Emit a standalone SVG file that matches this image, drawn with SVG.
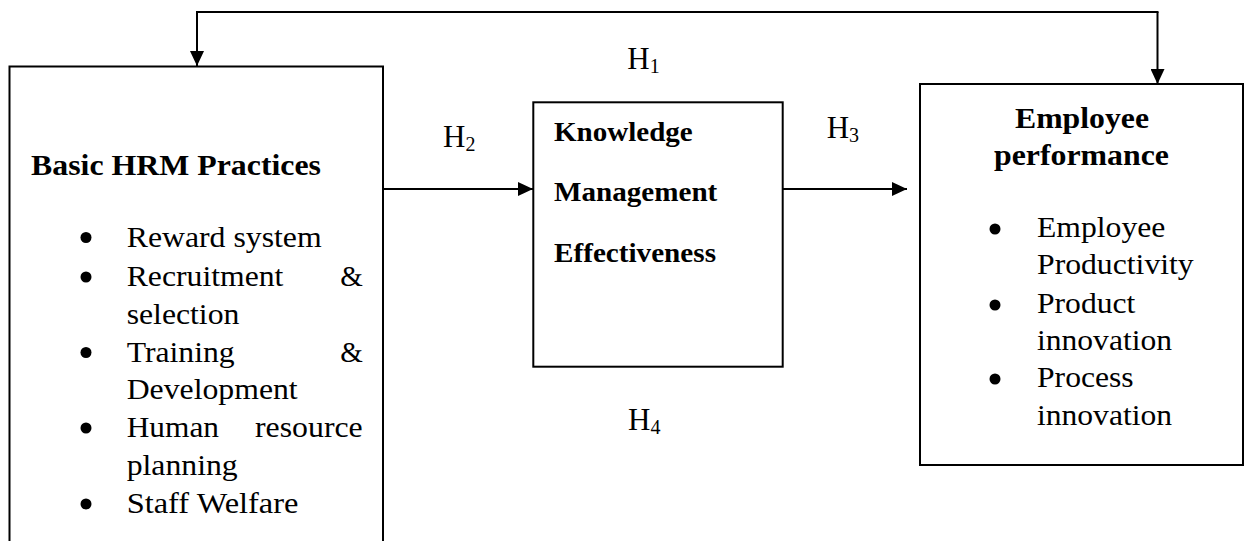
<svg xmlns="http://www.w3.org/2000/svg" width="1249" height="541" viewBox="0 0 1249 541">
<style>
.box{fill:#fff;stroke:#000;stroke-width:2}
.ln{fill:none;stroke:#000;stroke-width:2}
.t{font-family:"Liberation Serif","Times New Roman",serif;font-size:29px;fill:#000}
.b{font-family:"Liberation Serif","Times New Roman",serif;font-size:29px;font-weight:bold;fill:#000}
.m{font-size:28px}
.h{font-family:"Liberation Serif","Times New Roman",serif;font-size:31px;fill:#000}
.s{font-size:20px}
</style>
<defs>
<marker id="ah" markerUnits="userSpaceOnUse" markerWidth="16" markerHeight="14" refX="15" refY="7" orient="auto">
<path d="M0,0 L15,7 L0,14 Z" fill="#000"/>
</marker>
</defs>
<rect width="1249" height="541" fill="#fff"/>
<g id="connectors">
<path class="ln" d="M1157.5,12 V84" marker-end="url(#ah)"/>
<path class="ln" d="M197,12 V66" marker-end="url(#ah)"/>
<path class="ln" d="M196,12 H1158.5"/>
<path class="ln" d="M383,189 H533" marker-end="url(#ah)"/>
<path class="ln" d="M783,189 H907" marker-end="url(#ah)"/>
</g>
<g id="hrm">
<rect class="box" x="9.5" y="66.5" width="373.5" height="500"/>
<text class="b" x="31" y="175" textLength="290" lengthAdjust="spacingAndGlyphs">Basic HRM Practices</text>
<g fill="#000">
<circle cx="86" cy="237.5" r="5.5"/>
<circle cx="86" cy="277" r="5.5"/>
<circle cx="86" cy="352.5" r="5.5"/>
<circle cx="86" cy="428" r="5.5"/>
<circle cx="86" cy="504" r="5.5"/>
</g>
<text class="t" x="126.7" y="246.7" textLength="195" lengthAdjust="spacingAndGlyphs">Reward system</text>
<text class="t" x="126.7" y="286" textLength="156.7" lengthAdjust="spacingAndGlyphs">Recruitment</text>
<text class="t" x="362.7" y="286" text-anchor="end">&amp;</text>
<text class="t" x="126.7" y="323.5" textLength="112.7" lengthAdjust="spacingAndGlyphs">selection</text>
<text class="t" x="126.7" y="361.7" textLength="108" lengthAdjust="spacingAndGlyphs">Training</text>
<text class="t" x="362.7" y="361.7" text-anchor="end">&amp;</text>
<text class="t" x="126.7" y="399" textLength="171" lengthAdjust="spacingAndGlyphs">Development</text>
<text class="t" x="126.7" y="437" textLength="92.3" lengthAdjust="spacingAndGlyphs">Human</text>
<text class="t" x="255" y="437" textLength="107.7" lengthAdjust="spacingAndGlyphs">resource</text>
<text class="t" x="126.7" y="475" textLength="111" lengthAdjust="spacingAndGlyphs">planning</text>
<text class="t" x="126.7" y="513" textLength="171.7" lengthAdjust="spacingAndGlyphs">Staff Welfare</text>
</g>
<g id="km">
<rect class="box" x="533.3" y="102.3" width="249.4" height="264.4"/>
<text class="b m" x="554" y="140.7" textLength="138.7" lengthAdjust="spacingAndGlyphs">Knowledge</text>
<text class="b m" x="554" y="200.7" textLength="163.3" lengthAdjust="spacingAndGlyphs">Management</text>
<text class="b m" x="554" y="261.7" textLength="162" lengthAdjust="spacingAndGlyphs">Effectiveness</text>
</g>
<g id="ep">
<rect class="box" x="920" y="84" width="323" height="381"/>
<text class="b" x="1015" y="127.7" textLength="134" lengthAdjust="spacingAndGlyphs">Employee</text>
<text class="b" x="994" y="165" textLength="175" lengthAdjust="spacingAndGlyphs">performance</text>
<g fill="#000">
<circle cx="995" cy="229" r="5.5"/>
<circle cx="995" cy="305" r="5.5"/>
<circle cx="995" cy="379" r="5.5"/>
</g>
<text class="t" x="1037" y="236.7" textLength="128.3" lengthAdjust="spacingAndGlyphs">Employee</text>
<text class="t" x="1037" y="274" textLength="156.7" lengthAdjust="spacingAndGlyphs">Productivity</text>
<text class="t" x="1037" y="312.7" textLength="98.3" lengthAdjust="spacingAndGlyphs">Product</text>
<text class="t" x="1037" y="350" textLength="135" lengthAdjust="spacingAndGlyphs">innovation</text>
<text class="t" x="1037" y="386.7" textLength="96.7" lengthAdjust="spacingAndGlyphs">Process</text>
<text class="t" x="1037" y="425" textLength="135" lengthAdjust="spacingAndGlyphs">innovation</text>
</g>
<g id="labels">
<text class="h" x="627.3" y="69.3">H<tspan class="s" dy="4">1</tspan></text>
<text class="h" x="443" y="147.3">H<tspan class="s" dy="4">2</tspan></text>
<text class="h" x="826.7" y="137.7">H<tspan class="s" dy="4">3</tspan></text>
<text class="h" x="628" y="430">H<tspan class="s" dy="4">4</tspan></text>
</g>
</svg>
